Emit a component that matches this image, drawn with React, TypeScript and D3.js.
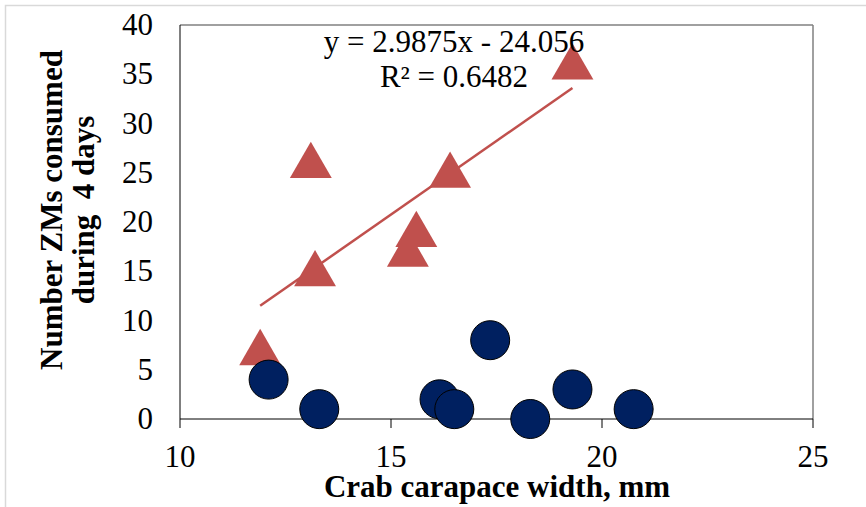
import React from 'react';
import * as d3 from 'd3';

// triangles: ZMs consumed (with fitted trend line)
const triX = [11.9, 13.1, 13.2, 15.4, 15.6, 16.4, 19.3];
const triY = [7, 26, 15, 17, 19, 25, 36];

// circles: second group
const circX = [12.1, 13.3, 16.15, 16.5, 17.35, 18.3, 19.3, 20.75];
const circY = [4, 1, 2, 1, 8, 0, 3, 1];

const xTicks = [10, 15, 20, 25];
const yTicks = [0, 5, 10, 15, 20, 25, 30, 35, 40];

const slope = 2.9875;
const intercept = -24.056;
const eqLabel = 'y = 2.9875x - 24.056';
const r2Label = 'R² = 0.6482';

const W = 866, H = 507;
const plot = { left: 180, right: 813, top: 25, bottom: 419 };
const font = '"Liberation Serif", "Times New Roman", serif';
const fs = 31;

export default function App() {
  const x = d3.scaleLinear().domain([10, 25]).range([plot.left, plot.right]);
  const y = d3.scaleLinear().domain([0, 40]).range([plot.bottom, plot.top]);

  const tri = d3.symbol().type(d3.symbolTriangle).size(760)();
  const xMin = d3.min(triX) as number;
  const xMax = d3.max(triX) as number;
  const trend = d3.line<number>()
    .x(d => x(d))
    .y(d => y(slope * d + intercept))([xMin, xMax]);

  return (
    <svg width={W} height={H} style={{ position: 'absolute', left: 0, top: 0, background: '#fff' }} fontFamily={font}>
      {/* outer chart border */}
      <rect x={5.5} y={5.5} width={W + 10} height={H + 10} fill="#fff" stroke="#d9d9d9" strokeWidth={1.5} />

      {/* plot frame */}
      <line x1={plot.left} x2={plot.right} y1={plot.top} y2={plot.top} stroke="#808080" strokeWidth={1.5} />
      <line x1={plot.right} x2={plot.right} y1={plot.top} y2={plot.bottom} stroke="#808080" strokeWidth={1.5} />
      <line x1={plot.left} x2={plot.left} y1={plot.top} y2={plot.bottom} stroke="#000" strokeWidth={1} />
      <line x1={plot.left} x2={plot.right} y1={plot.bottom} y2={plot.bottom} stroke="#000" strokeWidth={1} />

      {/* x ticks */}
      {xTicks.map(t => (
        <g key={t}>
          <line x1={x(t)} x2={x(t)} y1={plot.bottom} y2={plot.bottom + 9} stroke="#000" />
          <text x={x(t)} y={467} textAnchor="middle" fontSize={fs}>{t}</text>
        </g>
      ))}

      {/* y ticks */}
      {yTicks.map(t => (
        <text key={t} x={153} y={y(t) + 10} textAnchor="end" fontSize={fs}>{t}</text>
      ))}

      {/* trend line */}
      <path d={trend || ''} fill="none" stroke="#c0504d" strokeWidth={2.5} />

      {/* triangles */}
      {triX.map((v, i) => (
        <path key={'t' + i} d={tri || ''} transform={`translate(${x(v)},${y(triY[i]) + 3})`} fill="#c0504d" />
      ))}

      {/* circles */}
      {circX.map((v, i) => (
        <circle key={'c' + i} cx={x(v)} cy={y(circY[i])} r={19.5} fill="#002060" stroke="#000" strokeWidth={1} />
      ))}

      {/* equation */}
      <text x={454} y={52} textAnchor="middle" fontSize={fs}>{eqLabel}</text>
      <text x={454} y={87} textAnchor="middle" fontSize={fs}>{r2Label}</text>

      {/* axis titles */}
      <text x={497} y={497} textAnchor="middle" fontSize={fs} fontWeight="bold">Crab carapace width, mm</text>
      <text transform="translate(62,210) rotate(-90)" textAnchor="middle" fontSize={fs} fontWeight="bold">Number ZMs consumed</text>
      <text transform="translate(94,210) rotate(-90)" textAnchor="middle" fontSize={fs} fontWeight="bold" style={{ whiteSpace: 'pre' }}>{'during  4 days'}</text>
    </svg>
  );
}
